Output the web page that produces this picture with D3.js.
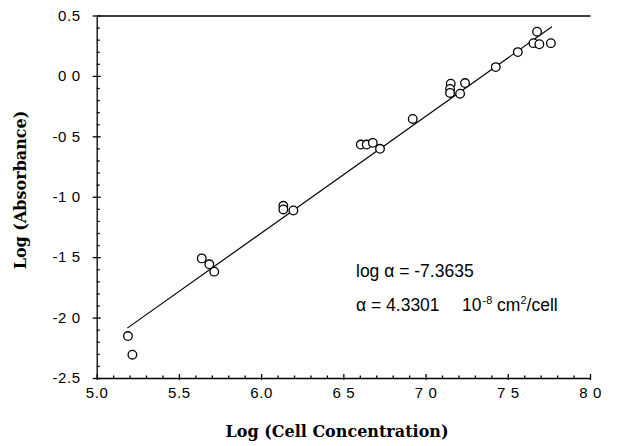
<!DOCTYPE html>
<html>
<head>
<meta charset="utf-8">
<script src="https://cdn.jsdelivr.net/npm/d3@7"></script>
<style>
  body { margin: 0; background: #fff; }
  .axis path, .axis line { stroke: #000; stroke-width: 1.3; }
  .axis text { font-family: "Liberation Sans", Arial, sans-serif; font-size: 15px; letter-spacing: 0.6px; fill: #000; }
  .title { font-family: "DejaVu Serif", "Liberation Serif", serif; font-weight: bold; font-size: 16px; }
  .note { font-family: "Liberation Sans", Arial, sans-serif; font-size: 17.5px; }
</style>
</head>
<body>
<script>
// data (log cell conc vs log absorbance)
const logConc = [5.190, 5.217, 5.639, 5.685, 5.715, 6.135, 6.135, 6.196,
  6.606, 6.642, 6.679, 6.723, 6.922, 7.153, 7.149, 7.149, 7.210, 7.240,
  7.427, 7.561, 7.678, 7.656, 7.692, 7.762]
const logAbs = [-2.153, -2.307, -1.510, -1.559, -1.620, -1.075, -1.105, -1.114,
  -0.568, -0.568, -0.554, -0.603, -0.356, -0.065, -0.108, -0.141, -0.147, -0.059,
  0.073, 0.197, 0.366, 0.271, 0.262, 0.271]

// fitted line as drawn
const fitX = [5.186, 7.768]
const fitSlope = 0.966
const fitIntercept = -7.097

const xTicks = [5.0, 5.5, 6.0, 6.5, 7.0, 7.5, 8.0]
const xTickLabels = ["5.0", "5.5", "6.0", "6 5", "7 0", "7 5", "8 0"]
const yTicks = [0.5, 0.0, -0.5, -1.0, -1.5, -2.0, -2.5]
const yTickLabels = ["0.5", "0 0", "-0 5", "-1 0", "-1 5", "-2 0", "-2.5"]

const width = 634
const height = 446

const svg = d3.select("body").append("svg")
  .attr("width", width)
  .attr("height", height)

const x = d3.scaleLinear().domain([5, 8]).range([96.7, 590])
const y = d3.scaleLinear().domain([-2.5, 0.5]).range([378, 15.5])

// minor ticks every 0.1
const xMinor = d3.range(51, 80).filter(v => v % 5 !== 0).map(v => v / 10)
const yMinor = d3.range(-24, 5).filter(v => v % 5 !== 0).map(v => v / 10)

// left axis
svg.append("g").attr("class", "axis")
  .attr("transform", `translate(${x(5)},0)`)
  .call(d3.axisLeft(y).tickValues(yMinor).tickSize(-3).tickSizeOuter(0).tickFormat(""))
  .select(".domain").remove()

const gy = svg.append("g").attr("class", "axis")
  .attr("transform", `translate(${x(5)},0)`)
  .call(d3.axisLeft(y).tickValues(yTicks).tickSize(-4).tickSizeOuter(0).tickPadding(16)
    .tickFormat((d, i) => yTickLabels[i]))
gy.selectAll(".tick line").attr("x1", -4).attr("x2", 4)

// bottom axis
svg.append("g").attr("class", "axis")
  .attr("transform", `translate(0,${y(-2.5)})`)
  .call(d3.axisBottom(x).tickValues(xMinor).tickSize(-2.5).tickSizeOuter(0).tickFormat(""))
  .select(".domain").remove()

const gx = svg.append("g").attr("class", "axis")
  .attr("transform", `translate(0,${y(-2.5)})`)
  .call(d3.axisBottom(x).tickValues(xTicks).tickSize(-4).tickSizeOuter(0).tickPadding(9)
    .tickFormat((d, i) => xTickLabels[i]))
gx.selectAll(".tick line").attr("y1", 2).attr("y2", -4)

// top frame line
svg.append("g").attr("class", "axis")
  .attr("transform", `translate(0,${y(0.5)})`)
  .call(d3.axisTop(x).tickValues([]).tickSizeOuter(0))
  .select(".domain").attr("stroke-width", 1.6)

// regression line
const line = d3.line().x(d => x(d)).y(d => y(fitSlope * d + fitIntercept))
svg.append("path")
  .datum(fitX)
  .attr("d", line)
  .attr("fill", "none")
  .attr("stroke", "#000")
  .attr("stroke-width", 1.2)

// points
svg.append("g").selectAll("circle")
  .data(logConc)
  .enter().append("circle")
  .attr("cx", d => x(d))
  .attr("cy", (d, i) => y(logAbs[i]))
  .attr("r", 4.3)
  .attr("fill", "#fff")
  .attr("stroke", "#000")
  .attr("stroke-width", 1.3)

// axis titles
svg.append("text").attr("class", "title")
  .attr("x", 337).attr("y", 437)
  .attr("text-anchor", "middle")
  .text("Log (Cell Concentration)")

svg.append("text").attr("class", "title")
  .attr("transform", "translate(26,190) rotate(-90)")
  .attr("text-anchor", "middle")
  .text("Log (Absorbance)")

// annotation
svg.append("text").attr("class", "note")
  .attr("x", 356).attr("y", 277)
  .text("log \u03b1 = -7.3635")

const n2 = svg.append("text").attr("class", "note")
  .attr("x", 356).attr("y", 311)
n2.append("tspan").text("\u03b1 = 4.3301")
n2.append("tspan").attr("x", 462).text("10")
n2.append("tspan").attr("dx", 1).attr("dy", -7).attr("font-size", 11).text("-8")
n2.append("tspan").attr("dy", 7).text(" cm")
n2.append("tspan").attr("dy", -7).attr("font-size", 11).text("2")
n2.append("tspan").attr("dy", 7).text("/cell")
</script>
</body>
</html>
